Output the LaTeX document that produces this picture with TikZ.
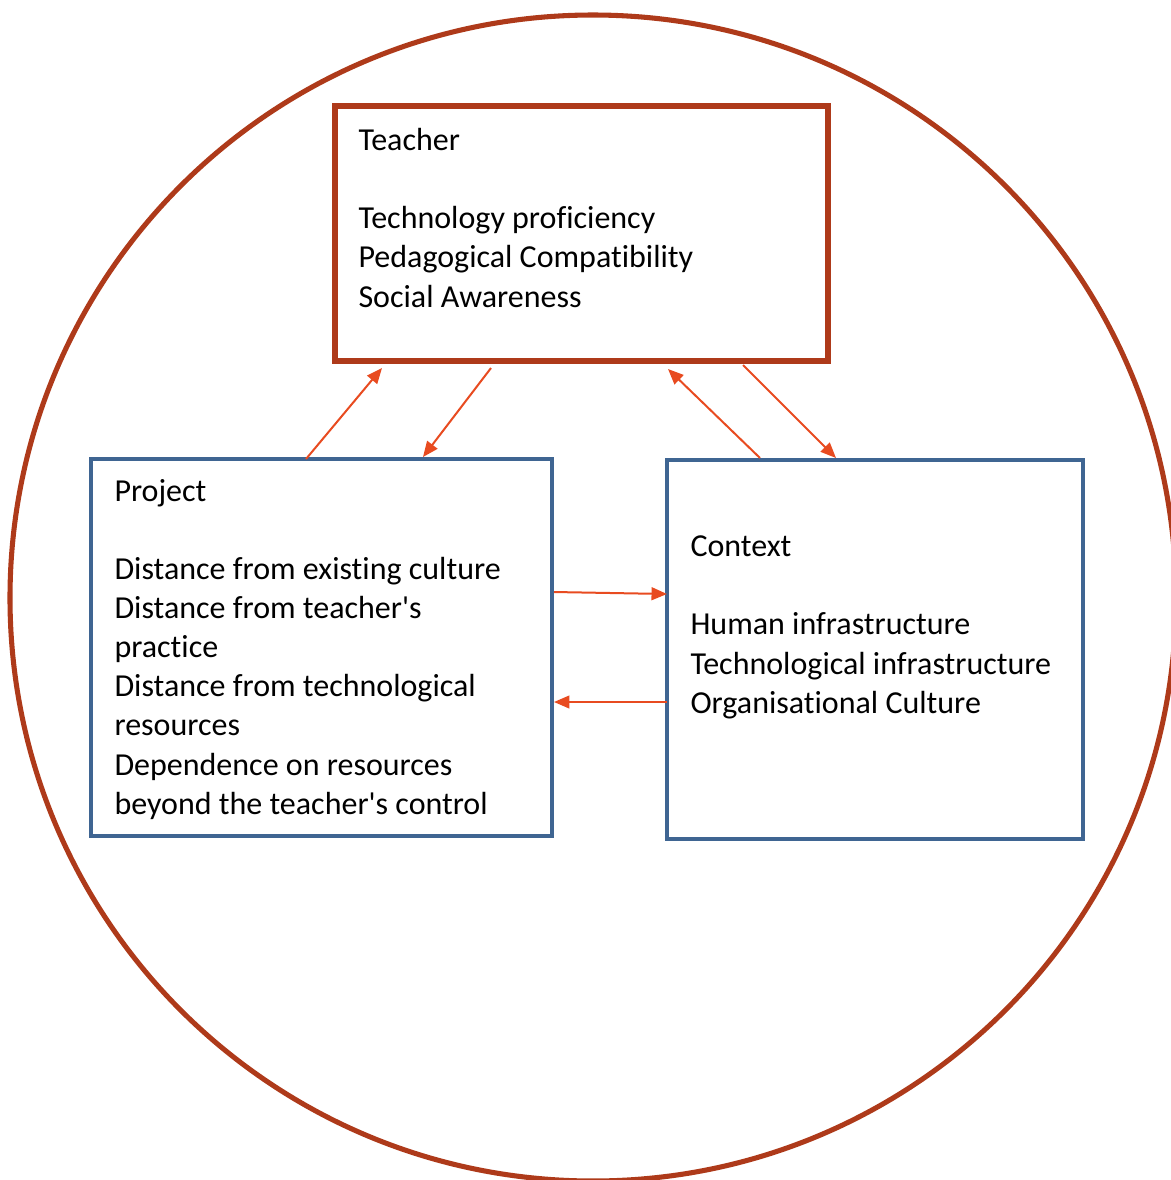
\documentclass[tikz,border=0pt]{standalone}
\usepackage{fontspec}
\setmainfont{Carlito}[Ligatures={NoCommon}]
\usetikzlibrary{arrows.meta, calc, fit}
\definecolor{rust}{HTML}{AE3A1A}
\definecolor{flow}{HTML}{E84B20}
\definecolor{steel}{HTML}{3F6592}

\begin{document}
\begin{tikzpicture}[
  x=0.375pt, y=-0.375pt,
  ring/.style={draw=rust, line width=1.9pt},
  topbox/.style={draw=rust, line width=1.9pt, inner sep=0pt, outer sep=0pt},
  sidebox/.style={draw=steel, line width=1.5pt, inner sep=0pt, outer sep=0pt},
  boxtext/.style={anchor=base west, inner sep=0pt, align=left,
                  font=\fontsize{12pt}{14.63pt}\selectfont},
  link/.style={draw=flow, line width=0.75pt,
               -{Triangle[length=5.8pt, width=4.8pt]}},
]
  \useasboundingbox (0,0) rectangle (1171,1180);
  \clip (0,0) rectangle (1171,1180);

  % Outer ring
  \draw[ring] (593,598) circle [radius=583];

  % The three boxes
  \node[topbox, fit={(335,106) (828,361)}] (teacher) {};
  \node[sidebox, fit={(91,459) (552,836)}] (project) {};
  \node[sidebox, fit={(667,460) (1083,839)}] (context) {};

  % Box contents (anchored on the last baseline)
  \node[boxtext] (teachertxt) at ($(teacher.north west)+(23,201)$)
    {Teacher\\[14.63pt]Technology proficiency\\Pedagogical Compatibility\\Social Awareness};
  \node[boxtext] (projecttxt) at ($(project.north west)+(23,355)$)
    {Project\\[14.63pt]Distance from existing culture\\Distance from teacher\textquotesingle s\\practice\\Distance from technological\\resources\\Dependence on resources\\beyond the teacher\textquotesingle s control};
  \node[boxtext] (contexttxt) at ($(context.north west)+(23,253)$)
    {Context\\[14.63pt]Human infrastructure\\Technological infrastructure\\Organisational Culture};

  % Links between boxes
  \draw[link] ($(project.north west)+(215,0)$) -- ($(teacher.south west)+(47,7)$);
  \draw[link] ($(teacher.south west)+(156,7)$) -- ($(project.north west)+(332,-2)$);
  \draw[link] ($(context.north west)+(93,-2)$) -- ($(teacher.south west)+(333,8)$);
  \draw[link] ($(teacher.south west)+(408,4)$) -- ($(context.north west)+(169,-2)$);
  \draw[link] ($(project.north east)+(2,133)$) -- ($(context.north west)+(0,134)$);
  \draw[link] ($(context.north west)+(0,242)$) -- ($(project.north east)+(2,243)$);
\end{tikzpicture}
\end{document}
